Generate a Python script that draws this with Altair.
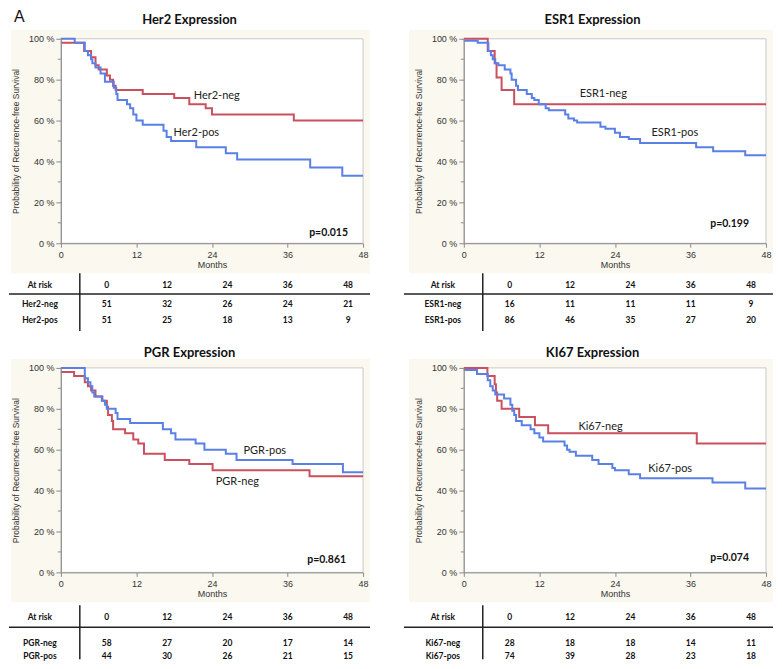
import altair as alt
import pandas as pd

# ---------------- data ----------------
TICKS = [0, 12, 24, 36, 48]
MINOR_Y = [10, 30, 50, 70, 90]

HER2_NEG_T = [0, 3.7, 4.8, 5.5, 6.0, 7.3, 7.8, 8.3, 8.7, 13.0, 18.0, 20.4, 23.0, 24.0, 37.0, 48]
HER2_NEG_S = [98, 94, 91, 87, 85, 82, 80, 77, 75, 73, 71, 68, 66, 63, 60, 60]
HER2_POS_T = [0, 2.2, 3.8, 4.3, 4.8, 5.0, 5.5, 6.3, 7.0, 8.4, 8.8, 9.0, 10.5, 11.0, 11.5, 12.0,
              13.0, 16.3, 16.8, 17.5, 21.5, 26.2, 28.0, 39.6, 44.7, 48]
HER2_POS_S = [100, 98, 94, 92, 90, 88, 86, 83, 79, 76, 73, 70, 68, 66, 63, 60,
              58, 55, 52, 50, 47, 44, 41, 37, 33, 33]

ESR1_NEG_T = [0, 3.8, 4.9, 5.2, 6.0, 8.0, 48]
ESR1_NEG_S = [100, 94, 88, 81, 75, 68, 68]
ESR1_POS_T = [0, 2.2, 3.9, 4.3, 4.6, 5.0, 5.5, 6.5, 7.4, 7.6, 8.3, 8.6, 10.0, 10.8, 11.2, 11.9,
              13.0, 13.5, 16.1, 16.6, 17.5, 18.0, 21.7, 22.5, 24.0, 24.8, 26.2, 28.0, 36.9, 39.6,
              44.7, 48]
ESR1_POS_S = [99, 98, 94, 92, 90, 88, 87, 85, 83, 80, 77, 75, 73, 71, 70, 68,
              66, 65, 63, 61, 60, 59, 57, 56, 54, 52, 51, 49, 47, 45,
              43, 43]

PGR_NEG_T = [0, 2.1, 3.8, 4.3, 4.8, 5.5, 6.6, 7.3, 7.5, 8.1, 8.3, 10.2, 11.5, 12.3, 13.2,
             16.5, 20.4, 24.1, 39.5, 48]
PGR_NEG_S = [98, 96, 93, 91, 89, 86, 84, 81, 77, 74, 70, 68, 65, 63, 58,
             55, 53, 50, 47, 47]
PGR_POS_T = [0, 3.8, 4.3, 4.7, 5.0, 5.3, 6.5, 7.0, 7.3, 8.7, 9.0, 11.0, 16.2, 17.5, 18.2,
             21.4, 22.8, 26.2, 27.9, 36.8, 44.8, 48]
PGR_POS_S = [100, 95, 93, 91, 88, 86, 84, 82, 80, 78, 75, 73, 70, 68, 65,
             63, 60, 58, 55, 53, 49, 49]

KI67_NEG_T = [0, 3.75, 4.9, 5.1, 5.3, 6.0, 8.8, 11.3, 13.4, 37.0, 48]
KI67_NEG_S = [100, 96, 92, 88, 84, 80, 76, 72, 68, 63, 63]
KI67_POS_T = [0, 2.1, 3.8, 4.2, 4.6, 5.0, 6.4, 7.4, 7.7, 8.0, 8.3, 9.2, 10.6, 11.2, 12.0,
              12.6, 16.0, 16.4, 16.8, 17.8, 20.4, 21.4, 23.6, 24.0, 26.2, 28.0, 39.5, 44.7, 48]
KI67_POS_S = [99, 97, 94, 91, 89, 87, 85, 82, 79, 77, 74, 72, 70, 68, 66,
              64, 62, 60, 59, 57, 55, 53, 51, 50, 48, 46, 44, 41, 41]

HER2_RISK_NEG = [51, 32, 26, 24, 21]
HER2_RISK_POS = [51, 25, 18, 13, 9]
ESR1_RISK_NEG = [16, 11, 11, 11, 9]
ESR1_RISK_POS = [86, 46, 35, 27, 20]
PGR_RISK_NEG = [58, 27, 20, 17, 14]
PGR_RISK_POS = [44, 30, 26, 21, 15]
KI67_RISK_NEG = [28, 18, 18, 14, 11]
KI67_RISK_POS = [74, 39, 28, 23, 18]

# ---------------- style ----------------
W, H = 303, 205
RED = "#C9505E"
BLUE = "#5A80E6"
CREAM = "#FAF8EF"
AX = "#8a8a8a"
SANS = "Liberation Sans"
CAL = "Lato"

xaxis = alt.Axis(values=TICKS, title="Months", labelFlush=False, labelOverlap=False,
                 tickSize=4, tickColor=AX, domainColor=AX, labelFont=SANS, labelFontSize=9,
                 labelColor="#333", labelPadding=3, titleFont=SANS, titleFontSize=9,
                 titleFontWeight="normal", titleColor="#333", titlePadding=1,
                 grid=False, zindex=1)
yaxis = alt.Axis(values=[0, 20, 40, 60, 80, 100], labelExpr="datum.value + ' %'",
                 title="Probability of Recurrence-free Survival", labelFlush=False,
                 labelOverlap=False, tickSize=5, tickColor=AX, domainColor=AX,
                 labelFont=SANS, labelFontSize=9, labelColor="#333", labelPadding=2,
                 titleFont=SANS, titleFontSize=8.5, titleFontWeight="normal",
                 titleColor="#333", titlePadding=8, grid=False, zindex=1)

x_sc = alt.Scale(domain=[0, 48], nice=False, zero=False)
y_sc = alt.Scale(domain=[0, 100], nice=False)
X = alt.X("month:Q", scale=x_sc, axis=xaxis)
Y = alt.Y("surv:Q", scale=y_sc, axis=yaxis)
ONE = pd.DataFrame({"a": [0]})


def step_line(t, s, color):
    df = pd.DataFrame({"month": t, "surv": s})
    return alt.Chart(df).mark_line(interpolate="step-after", strokeWidth=2, color=color).encode(x=X, y=Y)


def panel(title, neg, pos, nt, ns, pt, ps, rneg, rpos, ptxt, ppos, negpos, pospos,
          top=True, right=False, letter=None):
    left = -55 if right else -50
    bg = alt.Chart(ONE).mark_rect(color=CREAM).encode(
        x=alt.value(left), x2=alt.value(310), y=alt.value(-9), y2=alt.value(H + 30))
    frame = alt.Chart(ONE).mark_rect(fill="white", stroke="#c9c9c9", strokeWidth=1).encode(
        x=alt.value(0), x2=alt.value(W), y=alt.value(0), y2=alt.value(H))
    minor = alt.Chart(pd.DataFrame({"surv": MINOR_Y})).mark_rule(color=AX).encode(
        y=Y, x=alt.value(-3), x2=alt.value(0))
    red = step_line(nt, ns, RED)
    blue = step_line(pt, ps, BLUE)
    labs = alt.Chart(pd.DataFrame({"month": [negpos[0], pospos[0]],
                                   "surv": [negpos[1], pospos[1]],
                                   "label": [neg, pos]})).mark_text(
        align="left", baseline="middle", font=CAL, fontSize=11, color="#222").encode(
        x=X, y=Y, text="label:N")
    pv = alt.Chart(pd.DataFrame({"month": [ppos[0]], "surv": [ppos[1]], "p": [ptxt]})).mark_text(
        align="right", baseline="middle", font=CAL, fontSize=10.5, fontWeight="bold",
        color="#111").encode(x=X, y=Y, text="p:N")
    ttl = alt.Chart(pd.DataFrame({"t": [title]})).mark_text(
        align="center", baseline="middle", font=CAL, fontSize=13, fontWeight="bold",
        color="#111").encode(x=alt.value(129), y=alt.value(-19 if top else -15), text="t:N")
    inner_layers = [bg, frame, minor, red, blue, labs, pv, ttl]
    if letter:
        inner_layers.append(alt.Chart(pd.DataFrame({"t": [letter]})).mark_text(
            align="left", baseline="top", font=SANS, fontSize=16, color="#111").encode(
            x=alt.value(-47), y=alt.value(-30), text="t:N"))
    inner = alt.layer(*inner_layers)

    if top:
        hdr, rl, r1, r2, v0, v1 = 42, 51, 61, 77, 30, 88
    else:
        hdr, rl, r1, r2, v0, v1 = 45, 55, 71, 84, 33, 87
    rule_left = -60 if right else -52
    col_x = alt.X("col:Q", scale=alt.Scale(domain=[0, 48], range=[46, 288]), axis=None)
    table = []
    for label, vals, yy in [("At risk", [str(t) for t in TICKS], hdr),
                            (neg, [str(v) for v in rneg], r1),
                            (pos, [str(v) for v in rpos], r2)]:
        table.append(alt.Chart(pd.DataFrame({"col": TICKS, "txt": vals})).mark_text(
            align="center", baseline="middle", font=CAL, fontSize=8.5, fontWeight="bold",
            color="#111").encode(x=col_x, y=alt.value(H + yy), text="txt:N"))
        table.append(alt.Chart(pd.DataFrame({"t": [label]})).mark_text(
            align="center", baseline="middle", font=CAL, fontSize=8.5, fontWeight="bold",
            color="#111").encode(x=alt.value(-21), y=alt.value(H + yy), text="t:N"))
    table.append(alt.Chart(ONE).mark_rule(color="#222", strokeWidth=1.5).encode(
        x=alt.value(rule_left), x2=alt.value(310), y=alt.value(H + rl)))
    table.append(alt.Chart(ONE).mark_rule(color="#222", strokeWidth=1.5).encode(
        x=alt.value(19), y=alt.value(H + v0), y2=alt.value(H + v1)))
    return alt.layer(inner, *table).resolve_scale(x="independent").properties(width=W, height=H)


p1 = panel("Her2 Expression", "Her2-neg", "Her2-pos", HER2_NEG_T, HER2_NEG_S, HER2_POS_T,
           HER2_POS_S, HER2_RISK_NEG, HER2_RISK_POS, "p=0.015", (45.6, 4.9), (21.1, 71.9),
           (17.9, 54.1), top=True, right=False, letter="A")
p2 = panel("ESR1 Expression", "ESR1-neg", "ESR1-pos", ESR1_NEG_T, ESR1_NEG_S, ESR1_POS_T,
           ESR1_POS_S, ESR1_RISK_NEG, ESR1_RISK_POS, "p=0.199", (45.3, 9.3), (18.4, 73.1),
           (29.8, 53.7), top=True, right=True)
p3 = panel("PGR Expression", "PGR-neg", "PGR-pos", PGR_NEG_T, PGR_NEG_S, PGR_POS_T,
           PGR_POS_S, PGR_RISK_NEG, PGR_RISK_POS, "p=0.861", (45.3, 6.0), (24.6, 44.1),
           (29.0, 59.2), top=False, right=False)
p4 = panel("KI67 Expression", "Ki67-neg", "Ki67-pos", KI67_NEG_T, KI67_NEG_S, KI67_POS_T,
           KI67_POS_S, KI67_RISK_NEG, KI67_RISK_POS, "p=0.074", (45.3, 7.0), (18.2, 70.9),
           (29.3, 50.7), top=False, right=True)

chart = alt.concat(p1, p2, p3, p4, columns=2, spacing={"row": 125, "column": 101},
                   bounds="flush").properties(
    padding=0, background="white").configure_view(stroke=None)

chart.save("out.html", embed_options={"renderer": "svg", "actions": False})
